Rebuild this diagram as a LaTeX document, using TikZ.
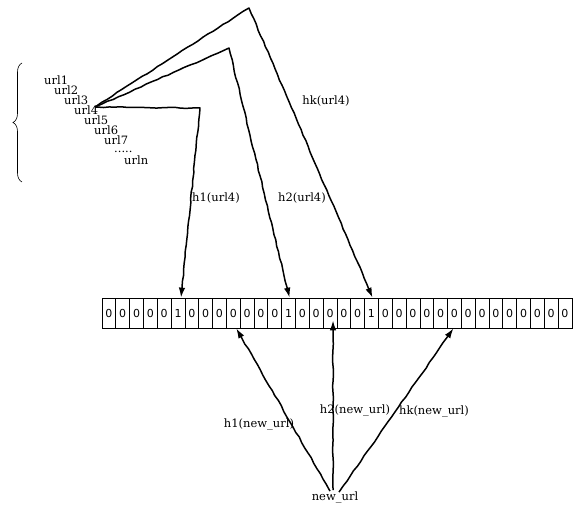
\documentclass[tikz,border=0pt]{standalone}
\usepackage{fontspec}
\setmainfont{DejaVu Serif}
\setsansfont{DejaVu Sans}
\usepackage{tikz}
\usetikzlibrary{arrows.meta, positioning, decorations.pathmorphing, decorations.pathreplacing}

\begin{document}
\begin{tikzpicture}[x=1pt, y=-1pt, font=\fontsize{11.5}{13}\selectfont,
    cell/.style={draw, line width=0.7pt, minimum width=13.82pt, minimum height=30pt, inner sep=0pt, font=\sffamily\fontsize{11}{13}\selectfont},
    url/.style={anchor=base west, inner sep=0pt},
    lbl/.style={inner sep=1pt},
    link/.style={-{Latex[length=10pt, width=6.5pt]}, line width=1.5pt, line join=round,
      decorate, decoration={random steps, segment length=6pt, amplitude=0.5pt, pre length=2pt, post length=10pt}}]
    \pgfmathsetseed{4711}
    \useasboundingbox (0,0) rectangle (573,518);

    % url list
    \foreach \u [count=\i] in {url1,url2,url3,url4,url5,url6,url7}
      \node[url] (u\i) at ({44+(\i-1)*10},{85+(\i-1)*10}) {\u};
    \node[url] (dots) at (114,153) {.....};
    \node[url] (urln) at (124,165) {urln};
    \draw[line width=0.6pt, decorate, decoration={brace, amplitude=9pt}] (22,182) -- (22,63);

    % bit array
    \foreach \b [count=\i] in {0,0,0,0,0,1,0,0,0,0,0,0,0,1,0,0,0,0,0,1,0,0,0,0,0,0,0,0,0,0,0,0,0,0}
      \node[cell] (c\i) at ({102+(\i-0.5)*13.82},313) {\b};

    % hashing url4
    \coordinate (src) at (95,107);
    \coordinate (b1) at (200,108);
    \coordinate (b2) at (229,48);
    \coordinate (b3) at (249,8);
    \draw[link] (src) -- (b1) -- ([xshift=3pt]c6.north);
    \draw[link] (src) -- (b2) -- ([xshift=1pt]c14.north);
    \draw[link] (src) -- (b3) -- ([xshift=1pt]c20.north);
    \node[lbl] (h1u) at (216,198) {h1(url4)};
    \node[lbl] (h2u) at (302,198) {h2(url4)};
    \node[lbl] (hku) at (326,101) {hk(url4)};

    % checking new_url
    \node[lbl] (nu) at (335,497) {new\_url};
    \draw[link] ([xshift=-5pt, yshift=-1pt]nu.north) -- ([xshift=3pt]c10.south);
    \draw[link] ([xshift=-2pt]nu.north) -- ([xshift=3pt, yshift=8pt]c17.south);
    \draw[link] ([xshift=4pt, yshift=-2pt]nu.north) -- ([xshift=-1pt]c26.south);
    \node[lbl] (h1n) at (259,424) {h1(new\_url)};
    \node[lbl] (h2n) at (355,410) {h2(new\_url)};
    \node[lbl] (hkn) at (434,411) {hk(new\_url)};
  \end{tikzpicture}
\end{document}
